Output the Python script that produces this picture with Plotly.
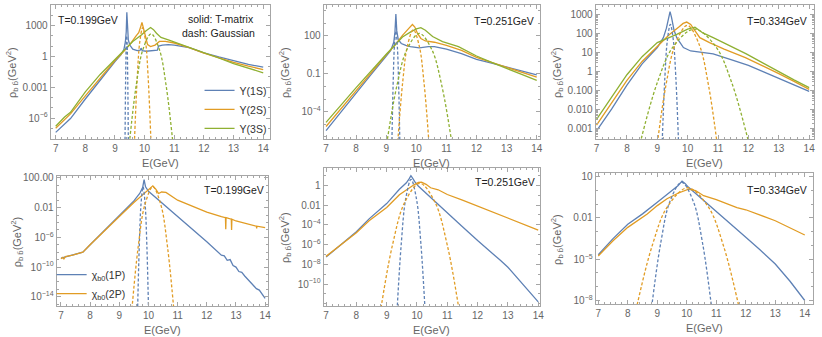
import numpy as np
import plotly.graph_objects as go

BLUE = "#5E81B5"
ORANGE = "#E19C24"
GREEN = "#8FB032"
FRAME = "#a6a6a6"
TXT = "#666666"
FONT = "Liberation Sans, Arial, sans-serif"

# ---- data: E in GeV, rho values stored as log10 ----
# T=0.199 GeV, Upsilon states, T-matrix (solid)
E_U1S_199 = [7.0, 7.5, 8.0, 8.5, 9.0, 9.2, 9.3, 9.35, 9.38, 9.40, 9.42, 9.45, 9.5, 9.6, 9.75, 9.85, 9.88,
             9.92, 10.05, 10.25, 10.43, 10.47, 10.6, 10.8, 11.0, 11.5, 12.0, 12.5, 13.0, 13.5, 14.0]
LG_U1S_199 = [-7.4, -6.05, -4.15, -2.3, -0.5, 0.15, 0.65, 1.4, 2.4, 4.3, 2.6, 1.6, 1.1, 0.7, 0.55, 0.6, 0.8,
              0.55, 0.5, 0.55, 0.6, 1.0, 1.1, 1.15, 1.1, 0.85, 0.35, -0.05, -0.45, -0.78, -1.05]
E_U2S_199 = [7.0, 7.5, 8.0, 8.5, 9.0, 9.3, 9.5, 9.7, 9.8, 9.86, 9.91, 9.96, 10.02, 10.1, 10.2, 10.35, 10.5,
             10.7, 11.0, 11.5, 12.0, 12.5, 13.0, 13.5, 14.0]
LG_U2S_199 = [-7.0, -5.6, -3.85, -2.1, -0.4, 0.5, 1.15, 1.95, 2.3, 2.8, 3.3, 2.75, 1.95, 1.15, 0.95, 1.1, 1.45,
              1.45, 1.3, 0.86, 0.32, -0.16, -0.58, -0.96, -1.28]
E_U3S_199 = [7.0, 7.3, 7.5, 8.0, 8.5, 9.0, 9.3, 9.6, 9.9, 10.05, 10.2, 10.3, 10.4, 10.55, 10.8, 11.0, 11.5,
             12.0, 12.5, 13.0, 13.5, 14.0]
LG_U3S_199 = [-6.8, -5.9, -5.45, -3.45, -1.76, -0.26, 0.64, 1.44, 2.1, 2.5, 2.8, 2.6, 2.25, 1.85, 1.6, 1.4, 0.9,
              0.38, -0.16, -0.7, -1.18, -1.6]
# Gaussian (dashed)
E_GU1S_199 = [9.33, 9.34, 9.36, 9.38, 9.395, 9.41, 9.43, 9.45, 9.46]
LG_GU1S_199 = [-12.0, -8.0, -2.05, 1.26, 2.0, 1.26, -2.05, -8.0, -12.0]
E_GU2S_199 = [9.615, 9.66, 9.755, 9.835, 9.935, 10.035, 10.115, 10.21, 10.255]
LG_GU2S_199 = [-11.9, -8.04, -1.84, 1.37, 2.8, 1.37, -1.84, -8.04, -11.9]
E_GU3S_199 = [9.39, 9.5, 9.72, 9.94, 10.22, 10.5, 10.72, 10.94, 11.05]
LG_GU3S_199 = [-11.4, -8.04, -2.74, 0.65, 2.2, 0.65, -2.74, -8.04, -11.4]

# T=0.251 GeV, Upsilon
E_U1S_251 = [7.0, 7.5, 8.0, 8.5, 9.0, 9.15, 9.25, 9.29, 9.32, 9.35, 9.4, 9.5, 9.65, 9.8, 10.1, 10.4, 10.6,
             11.0, 11.5, 12.0, 12.5, 13.0, 13.5, 14.0]
LG_U1S_251 = [-5.5, -4.0, -2.55, -1.05, 0.4, 0.85, 1.5, 2.3, 3.74, 2.4, 1.7, 1.4, 1.25, 1.15, 1.05, 1.15, 1.15,
              0.95, 0.6, 0.15, -0.15, -0.45, -0.78, -1.08]
E_U2S_251 = [7.0, 8.0, 9.0, 9.3, 9.54, 9.75, 9.87, 9.95, 10.04, 10.15, 10.3, 10.6, 11.0, 11.5, 12.0, 12.5,
             13.0, 13.5, 14.0]
LG_U2S_251 = [-5.17, -2.3, 0.5, 1.3, 2.05, 2.6, 2.9, 2.7, 2.2, 1.8, 1.6, 1.5, 1.25, 0.85, 0.3, -0.1,
              -0.5, -0.88, -1.26]
E_U3S_251 = [7.0, 8.0, 9.0, 9.3, 9.54, 9.8, 10.0, 10.15, 10.3, 10.54, 10.7, 10.87, 11.4, 12.0, 12.5, 13.0,
             13.5, 14.0]
LG_U3S_251 = [-4.85, -2.1, 0.55, 1.35, 1.92, 2.3, 2.55, 2.65, 2.45, 1.95, 1.75, 1.55, 1.15, 0.41, -0.1, -0.55,
              -1.05, -1.52]
E_GU1S_251 = [9.17, 9.19, 9.23, 9.27, 9.32, 9.37, 9.41, 9.45, 9.47]
LG_GU1S_251 = [-9.0, -6.16, -1.7, 1.13, 2.4, 1.13, -1.7, -6.16, -9.0]
E_GU2S_251 = [9.3, 9.39, 9.55, 9.7, 9.9, 10.1, 10.25, 10.41, 10.5]
LG_GU2S_251 = [-9.5, -6.16, -1.58, 1.17, 2.5, 1.17, -1.58, -6.16, -9.5]
E_GU3S_251 = [8.9, 9.04, 9.36, 9.68, 10.1, 10.52, 10.84, 11.16, 11.3]
LG_GU3S_251 = [-8.5, -6.16, -1.87, 0.89, 2.2, 0.89, -1.87, -6.16, -8.5]

# T=0.334 GeV, Upsilon
E_U1S_334 = [7.0, 7.5, 8.0, 8.5, 9.0, 9.2, 9.3, 9.37, 9.42, 9.47, 9.55, 9.64, 9.86, 10.1, 10.4, 10.84, 11.5,
             12.0, 12.5, 13.0, 13.5, 14.0]
LG_U1S_334 = [-3.1, -1.95, -0.7, 0.42, 1.28, 1.8, 2.3, 2.85, 3.17, 2.85, 2.2, 1.8, 1.28, 1.1, 1.03, 0.95, 0.6,
              0.34, 0.0, -0.35, -0.7, -1.03]
E_U2S_334 = [7.0, 7.5, 8.0, 8.5, 9.0, 9.4, 9.7, 9.85, 9.97, 10.1, 10.25, 10.4, 10.72, 11.2, 11.9, 12.5, 13.0,
             13.5, 14.0]
LG_U2S_334 = [-2.8, -1.6, -0.45, 0.55, 1.37, 1.97, 2.35, 2.55, 2.62, 2.5, 2.15, 1.8, 1.54, 1.2, 0.75, 0.3, -0.09,
              -0.5, -0.92]
E_U3S_334 = [7.0, 7.5, 8.0, 8.5, 9.0, 9.64, 10.0, 10.24, 10.5, 10.84, 11.3, 11.93, 12.5, 13.0, 13.5, 14.0]
LG_U3S_334 = [-2.5, -1.3, -0.15, 0.8, 1.54, 1.97, 2.25, 2.35, 2.05, 1.8, 1.45, 0.95, 0.45, 0.0, -0.42, -0.83]
E_GU1S_334 = [9.13, 9.165, 9.25, 9.33, 9.43, 9.53, 9.61, 9.695, 9.73]
LG_GU1S_334 = [-5.2, -3.53, -0.28, 1.64, 2.5, 1.64, -0.28, -3.53, -5.2]
E_GU2S_334 = [8.885, 9.02, 9.285, 9.585, 9.985, 10.385, 10.685, 10.95, 11.085]
LG_GU2S_334 = [-5.3, -3.53, -0.7, 1.42, 2.45, 1.42, -0.7, -3.53, -5.3]
E_GU3S_334 = [8.225, 8.47, 9.025, 9.525, 10.225, 10.925, 11.425, 11.98, 12.225]
LG_GU3S_334 = [-5.3, -3.53, -0.45, 1.33, 2.25, 1.33, -0.45, -3.53, -5.3]

# T=0.199 GeV, chi_b0 states
E_C1P_199 = [7.0, 7.1, 7.4, 7.75, 8.0, 8.5, 9.0, 9.5, 9.7, 9.8, 9.85, 9.9, 10.0, 10.5, 11.0, 11.5, 12.0, 12.5,
             12.6, 12.7, 12.8, 12.9, 13.0, 13.1, 13.2, 13.3, 13.5, 13.7, 13.8, 14.0]
LG_C1P_199 = [-8.8, -8.7, -8.4, -8.0, -7.0, -5.0, -3.1, -1.1, -0.1, 0.7, 1.75, 0.8, 0.2, -1.5, -3.1, -4.8, -6.6,
              -8.4, -8.5, -9.1, -9.0, -9.8, -10.0, -10.6, -10.7, -11.2, -12.0, -12.9, -13.1, -14.2]
E_C2P_199 = [7.0, 7.05, 7.1, 7.15, 7.4, 7.75, 8.0, 8.5, 9.0, 9.5, 9.8, 10.0, 10.15, 10.25, 10.35, 10.45, 10.6,
             11.0, 11.5, 12.0, 12.5, 12.64, 12.65, 12.66, 12.84, 12.85, 12.86, 13.0, 13.5, 13.7, 13.71,
             13.72, 14.0]
LG_C2P_199 = [-8.9, -8.7, -8.9, -8.6, -8.4, -8.0, -7.0, -5.05, -3.2, -1.3, -0.3, 0.4, 0.93, 0.5, -0.1, 0.1, 0.05,
              -1.0, -1.8, -2.6, -3.2, -3.35, -4.9, -3.35, -3.55, -5.0, -3.55, -3.8, -4.3, -4.5, -4.8,
              -4.5, -4.7]
E_GC1P_199 = [9.605, 9.63, 9.685, 9.745, 9.815, 9.885, 9.945, 10.0, 10.025]
LG_GC1P_199 = [-20.0, -15.3, -7.15, -1.5, 0.8, -1.5, -7.15, -15.3, -20.0]
E_GC2P_199 = [9.35, 9.44, 9.65, 9.87, 10.15, 10.43, 10.65, 10.86, 10.95]
LG_GC2P_199 = [-19.6, -15.3, -7.2, -1.7, 0.8, -1.7, -7.2, -15.3, -19.6]

# T=0.251 GeV, chi_b0
E_C1P_251 = [7.0, 7.5, 8.0, 8.42, 9.0, 9.42, 9.65, 9.74, 9.8, 9.86, 9.92, 10.05, 10.5, 11.0, 11.5, 12.0, 12.5,
             12.75, 13.0, 13.5, 14.0]
LG_C1P_251 = [-7.27, -6.0, -4.7, -3.4, -1.85, -0.4, 0.25, 0.65, 0.97, 0.7, 0.4, -0.1, -1.4, -2.8, -4.2, -5.6,
              -6.9, -7.6, -8.3, -10.0, -11.8]
E_C2P_251 = [7.0, 7.5, 8.0, 8.42, 9.0, 9.42, 9.7, 9.9, 10.05, 10.15, 10.3, 10.45, 10.7, 11.0, 11.5, 12.0, 12.5,
             13.0, 13.5, 14.0]
LG_C2P_251 = [-7.2, -6.0, -4.8, -3.6, -2.25, -0.95, -0.35, 0.05, 0.3, 0.33, 0.1, -0.25, -0.45, -0.93, -1.5,
              -2.1, -2.7, -3.27, -3.9, -4.53]
E_GC1P_251 = [9.285, 9.35, 9.485, 9.625, 9.805, 9.985, 10.125, 10.26, 10.325]
LG_GC1P_251 = [-16.2, -12.27, -5.77, -1.41, 0.6, -1.41, -5.77, -12.27, -16.2]
E_GC2P_251 = [8.645, 8.82, 9.195, 9.595, 10.095, 10.595, 10.995, 11.37, 11.545]
LG_GC2P_251 = [-15.9, -12.27, -6.0, -1.72, 0.2, -1.72, -6.0, -12.27, -15.9]

# T=0.334 GeV, chi_b0
E_C1P_334 = [7.0, 7.5, 8.0, 8.5, 9.0, 9.33, 9.55, 9.7, 9.84, 9.95, 10.05, 10.34, 11.0, 11.5, 12.0, 12.5,
             13.0, 13.5, 14.0]
LG_C1P_334 = [-4.67, -3.5, -2.45, -1.7, -0.85, -0.29, 0.05, 0.35, 0.68, 0.5, 0.25, -0.29, -1.5, -2.4, -3.4,
              -4.35, -5.35, -6.6, -8.0]
E_C2P_334 = [7.0, 7.5, 8.0, 8.66, 9.0, 9.33, 9.7, 10.06, 10.3, 10.57, 11.0, 11.7, 12.0, 13.0, 14.0]
LG_C2P_334 = [-4.76, -3.65, -2.68, -1.71, -1.1, -0.6, -0.2, 0.1, 0.0, -0.38, -0.67, -1.24, -1.4, -2.2, -3.24]
E_GC1P_334 = [8.675, 8.82, 9.125, 9.425, 9.825, 10.225, 10.525, 10.83, 10.975]
LG_GC1P_334 = [-11.0, -8.29, -3.71, -0.81, 0.6, -0.81, -3.71, -8.29, -11.0]
E_GC2P_334 = [8.085, 8.32, 8.835, 9.335, 10.035, 10.735, 11.235, 11.75, 11.985]
LG_GC2P_334 = [-10.8, -8.29, -3.96, -1.21, 0.2, -1.21, -3.96, -8.29, -10.8]

X_TICKS = [7, 8, 9, 10, 11, 12, 13, 14]
TEMPS = ["T=0.199GeV", "T=0.251GeV", "T=0.334GeV"]
UPS_NAMES = ["Υ(1S)", "Υ(2S)", "Υ(3S)"]
CHI_NAMES = ["χ<sub>b0</sub>(1P)", "χ<sub>b0</sub>(2P)"]

W, H = 822, 337
fig = go.Figure()


def sup(k):
    return "10<sup>\u2212%d</sup>" % (-k)


def add(sfx, E, lg, color, dashed=False, name=None, legend="legend"):
    fig.add_trace(go.Scatter(
        x=E, y=np.power(10.0, lg), mode="lines", xaxis="x" + sfx, yaxis="y" + sfx,
        line=dict(color=color, width=1.3, dash="3px,2px" if dashed else "solid",
                  shape="spline" if dashed else "linear", smoothing=1.0),
        name=name, showlegend=name is not None, legend=legend, hoverinfo="skip"))


# panels: suffix, frame px (left, right, top, bottom), x range, log y range, y ticks
panels = [
    ("", (49, 270, 1, 137), [6.83, 14.23], [-8.04, 5.0],
     [(-6, sup(-6)), (-3, "0.001"), (0, "1"), (3, "1000")], list(range(-8, 6))),
    ("2", (324, 542, 1, 137), [6.92, 14.11], [-6.16, 4.45],
     [(-4, sup(-4)), (-1, "0.1"), (2, "100")], list(range(-6, 5))),
    ("3", (598, 818, 1, 137), [6.97, 14.16], [-3.53, 3.52],
     [(-3, "0.001"), (-2, "0.010"), (-1, "0.100"), (0, "1"), (1, "10"), (2, "100"), (3, "1000")], None),
    ("4", (55, 268, 175, 307), [6.85, 14.1], [-15.3, 2.2],
     [(-14, sup(-14)), (-10, sup(-10)), (-6, sup(-6)), (-2, "0.01"), (2, "100.00")], list(range(-15, 3))),
    ("5", (324, 542, 166, 307), [6.92, 14.06], [-12.27, 1.8],
     [(-10, sup(-10)), (-8, sup(-8)), (-6, sup(-6)), (-4, sup(-4)), (-2, "0.01"), (0, "1")], list(range(-12, 2))),
    ("6", (598, 817, 172, 305), [6.91, 14.28], [-8.29, 1.24],
     [(-8, sup(-8)), (-5, sup(-5)), (-2, "0.01"), (1, "10")], list(range(-8, 2))),
]

# traces
add("", E_U1S_199, LG_U1S_199, BLUE, name=UPS_NAMES[0])
add("", E_U2S_199, LG_U2S_199, ORANGE, name=UPS_NAMES[1])
add("", E_U3S_199, LG_U3S_199, GREEN, name=UPS_NAMES[2])
add("", E_GU1S_199, LG_GU1S_199, BLUE, True)
add("", E_GU2S_199, LG_GU2S_199, ORANGE, True)
add("", E_GU3S_199, LG_GU3S_199, GREEN, True)

add("2", E_U1S_251, LG_U1S_251, BLUE)
add("2", E_U2S_251, LG_U2S_251, ORANGE)
add("2", E_U3S_251, LG_U3S_251, GREEN)
add("2", E_GU1S_251, LG_GU1S_251, BLUE, True)
add("2", E_GU2S_251, LG_GU2S_251, ORANGE, True)
add("2", E_GU3S_251, LG_GU3S_251, GREEN, True)

add("3", E_U1S_334, LG_U1S_334, BLUE)
add("3", E_U2S_334, LG_U2S_334, ORANGE)
add("3", E_U3S_334, LG_U3S_334, GREEN)
add("3", E_GU1S_334, LG_GU1S_334, BLUE, True)
add("3", E_GU2S_334, LG_GU2S_334, ORANGE, True)
add("3", E_GU3S_334, LG_GU3S_334, GREEN, True)

add("4", E_C1P_199, LG_C1P_199, BLUE, name=CHI_NAMES[0], legend="legend2")
add("4", E_C2P_199, LG_C2P_199, ORANGE, name=CHI_NAMES[1], legend="legend2")
add("4", E_GC1P_199, LG_GC1P_199, BLUE, True)
add("4", E_GC2P_199, LG_GC2P_199, ORANGE, True)

add("5", E_C1P_251, LG_C1P_251, BLUE)
add("5", E_C2P_251, LG_C2P_251, ORANGE)
add("5", E_GC1P_251, LG_GC1P_251, BLUE, True)
add("5", E_GC2P_251, LG_GC2P_251, ORANGE, True)

add("6", E_C1P_334, LG_C1P_334, BLUE)
add("6", E_C2P_334, LG_C2P_334, ORANGE)
add("6", E_GC1P_334, LG_GC1P_334, BLUE, True)
add("6", E_GC2P_334, LG_GC2P_334, ORANGE, True)

layout = dict(
    width=W, height=H, margin=dict(l=0, r=0, t=0, b=0),
    paper_bgcolor="white", plot_bgcolor="white",
    font=dict(family=FONT, size=10, color=TXT),
    legend=dict(x=199 / W, y=1 - 73 / H, xanchor="left", yanchor="top", bgcolor="rgba(0,0,0,0)",
                font=dict(size=10.5, color="#333"), itemwidth=30, tracegroupgap=0),
    legend2=dict(x=50 / W, y=1 - 260 / H, xanchor="left", yanchor="top", bgcolor="rgba(0,0,0,0)",
                 font=dict(size=10.5, color="#333"), itemwidth=30, tracegroupgap=0),
)

x_minor = [round(7 + 0.2 * i, 1) for i in range(0, 36)]
annotations = []
for sfx, (l, r, t, b), xr, yr, yt, ydec in panels:
    if ydec is None:
        ym = [m * 10.0 ** k for k in range(-4, 4) for m in range(2, 10)]
    else:
        ym = [10.0 ** k for k in ydec]
    layout["xaxis" + sfx] = dict(
        domain=[l / W, r / W], range=xr, anchor="y" + sfx, tickmode="array", tickvals=X_TICKS,
        ticks="inside", ticklen=4, tickcolor=FRAME, showline=True, linecolor=FRAME, linewidth=1,
        mirror="allticks", showgrid=False, zeroline=False, tickfont=dict(size=10, color=TXT),
        minor=dict(tickvals=x_minor, ticks="inside", ticklen=2, tickcolor=FRAME))
    layout["yaxis" + sfx] = dict(
        domain=[1 - b / H, 1 - t / H], type="log", range=yr, anchor="x" + sfx, tickmode="array",
        tickvals=[10.0 ** k for k, _ in yt], ticktext=[s for _, s in yt],
        ticks="inside", ticklen=4, tickcolor=FRAME, showline=True, linecolor=FRAME, linewidth=1,
        mirror="allticks", showgrid=False, zeroline=False, tickfont=dict(size=10, color=TXT),
        minor=dict(tickvals=ym, ticks="inside", ticklen=2, tickcolor=FRAME))
    # axis titles
    annotations.append(dict(text="E(GeV)", x=(l + r) / 2 / W, y=1 - (b + 24) / H, xref="paper", yref="paper",
                            xanchor="center", yanchor="middle", showarrow=False,
                            font=dict(size=11, color=TXT)))
    annotations.append(dict(text="ρ<sub>b b\u0304</sub>(GeV<sup>2</sup>)", x=(l - 39) / W,
                            y=1 - (t + b) / 2 / H, xref="paper", yref="paper", textangle=-90,
                            xanchor="center", yanchor="middle", showarrow=False,
                            font=dict(size=11, color=TXT)))

# temperature labels and line-style note
annotations += [
    dict(text=TEMPS[0], x=54 / W, y=1 - 16 / H, xanchor="left"),
    dict(text="solid: T-matrix", x=256 / W, y=1 - 15 / H, xanchor="right"),
    dict(text="dash: Gaussian", x=257 / W, y=1 - 29 / H, xanchor="right"),
    dict(text=TEMPS[1], x=538 / W, y=1 - 17 / H, xanchor="right"),
    dict(text=TEMPS[2], x=813 / W, y=1 - 17 / H, xanchor="right"),
    dict(text=TEMPS[0], x=266 / W, y=1 - 189 / H, xanchor="right"),
    dict(text=TEMPS[1], x=539 / W, y=1 - 181 / H, xanchor="right"),
    dict(text=TEMPS[2], x=813 / W, y=1 - 189 / H, xanchor="right"),
]
for a in annotations[-8:]:
    a.update(xref="paper", yref="paper", yanchor="middle", showarrow=False,
             font=dict(size=10.5, color="#222"))

layout["annotations"] = annotations
fig.update_layout(**layout)
# the page body has a default 8px margin; drop it so the chart fills the window
fig.write_html("out.html", config={"displayModeBar": False},
               post_script="document.body.style.margin='0';")
